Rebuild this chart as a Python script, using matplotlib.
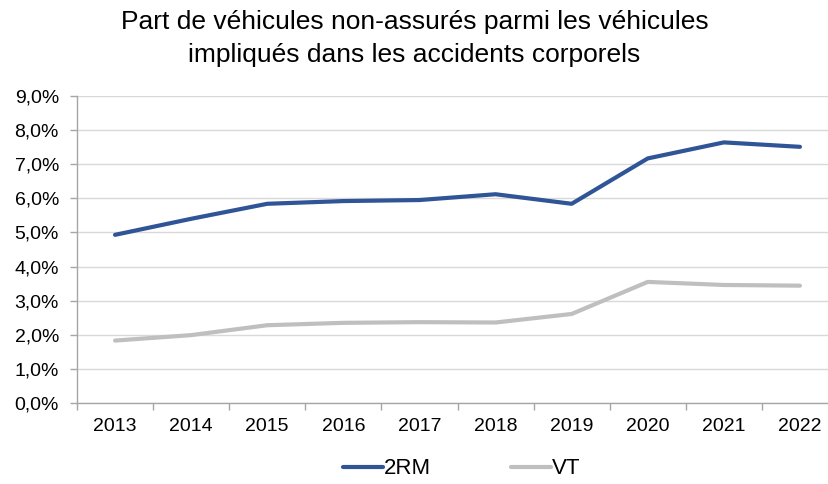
import matplotlib
matplotlib.use("Agg")
import matplotlib.pyplot as plt
from matplotlib.ticker import FixedLocator, FuncFormatter

plt.rcParams['font.family'] = ['Liberation Sans', 'DejaVu Sans']

years = ["2013", "2014", "2015", "2016", "2017", "2018", "2019", "2020", "2021", "2022"]
rm2 = [4.93, 5.40, 5.84, 5.92, 5.95, 6.12, 5.84, 7.17, 7.64, 7.51]
vt = [1.83, 1.99, 2.28, 2.35, 2.37, 2.36, 2.61, 3.55, 3.46, 3.44]
title = "Part de véhicules non-assurés parmi les véhicules\nimpliqués dans les accidents corporels"

W, H = 829, 484
fig = plt.figure(figsize=(W/100, H/100), dpi=100)
ax = fig.add_axes([77/W, 1-403/H, (838-77)/W, (403-96)/H])

x = list(range(len(years)))
ax.plot(x, rm2, color="#2F5597", lw=3, label="2RM", solid_capstyle="round", zorder=3)
ax.plot(x, vt, color="#BFBFBF", lw=3, label="VT", solid_capstyle="round", zorder=3)

ax.set_xlim(-0.5, len(years)-0.5)
ax.set_ylim(0, 9)
ax.yaxis.set_major_locator(FixedLocator([i for i in range(10)]))
ax.yaxis.set_major_formatter(FuncFormatter(lambda v, p: f"{v:.1f}%".replace(".", ",")))
ax.set_xticks(x)
ax.set_xticklabels(years)
ax.set_xticks([i-0.5 for i in range(len(years)+1)], minor=True)
ax.tick_params(axis='x', which='major', length=0, pad=11, labelsize=14)
ax.tick_params(axis='x', which='minor', length=5, color="#A6A6A6", width=1)
ax.tick_params(axis='y', length=5, color="#A6A6A6", width=1, labelsize=14, pad=8)
ax.grid(axis='y', color="#D9D9D9", lw=1, zorder=0)
ax.set_axisbelow(True)
for s in ['top', 'right']:
    ax.spines[s].set_visible(False)
for s in ['left', 'bottom']:
    ax.spines[s].set_color("#A6A6A6")
    ax.spines[s].set_linewidth(1)

fig.text(0.5, 1-38.5/H, title, ha='center', va='center', fontsize=19, linespacing=1.45)

fig.legend(loc='center left', bbox_to_anchor=(343/W, 1-469/H), ncol=2, frameon=False,
           fontsize=16, handlelength=1.8, columnspacing=3.6, handletextpad=0.05,
           borderpad=0, borderaxespad=0)

fig.savefig("out.png", dpi=100)
